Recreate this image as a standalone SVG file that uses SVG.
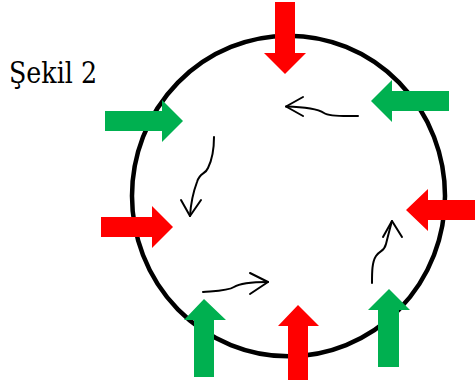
<svg xmlns="http://www.w3.org/2000/svg" width="475" height="383" viewBox="0 0 475 383">
<defs>
<style>
.red{fill:#FF0000}
.green{fill:#00B050}
.flow{fill:none;stroke:#000;stroke-width:2;stroke-linecap:round;stroke-linejoin:round}
</style>
</defs>
<rect width="475" height="383" fill="#fff"/>
<text x="9" y="83" font-family="DejaVu Serif, serif" font-size="29" textLength="88" lengthAdjust="spacingAndGlyphs" fill="#000">Şekil 2</text>
<g id="circle">
<ellipse cx="288.5" cy="196" rx="156.5" ry="160.3" fill="none" stroke="#000" stroke-width="4.5"/>
</g>
<g id="connectors">
<path class="flow" d="M358,116 C345,116 330,117 324,113 C318,109 305,107 286,106.5"/>
<path class="flow" d="M303,97 L286,106.5 L303,116"/>
<path class="flow" d="M214,137 C214,150 212,160 208,168 C205,175 200,172 197,182 C194,190 191,200 190,216"/>
<path class="flow" d="M181,200 L190,216 L201,200"/>
<path class="flow" d="M203,292 C215,291 228,291 234,287 C240,283 250,282 268,282"/>
<path class="flow" d="M250,273 L268,282 L250,294"/>
<path class="flow" d="M372,283 C372,272 372,262 376,256 C380,250 384,252 386,244 C388,236 390,228 392,221"/>
<path class="flow" d="M383,237 L392,221 L402,237"/>
</g>
<g id="arrow-top-red"><polygon class="red" points="275,2 295,2 295,53 306,53 285,74 264,53 275,53"/></g>
<g id="arrow-topright-green"><polygon class="green" points="449,91 449,111 392,111 392,122 371,101 392,80 392,91"/></g>
<g id="arrow-left-green"><polygon class="green" points="105,111 162,111 162,100 183,121 162,142 162,131 105,131"/></g>
<g id="arrow-left-red"><polygon class="red" points="101,217 152,217 152,206 173,227 152,248 152,237 101,237"/></g>
<g id="arrow-bottomleft-green"><polygon class="green" points="194,377 194,320 184,320 204,299 226,320 214,320 214,377"/></g>
<g id="arrow-bottom-red"><polygon class="red" points="288,380 288,326 278,326 298,305 319,326 308,326 308,380"/></g>
<g id="arrow-bottomright-green"><polygon class="green" points="378,367 378,310 368,310 389,289 410,310 399,310 399,367"/></g>
<g id="arrow-right-red"><polygon class="red" points="475,200 428,200 428,189 406,210 428,231 428,220 475,220"/></g>
</svg>
